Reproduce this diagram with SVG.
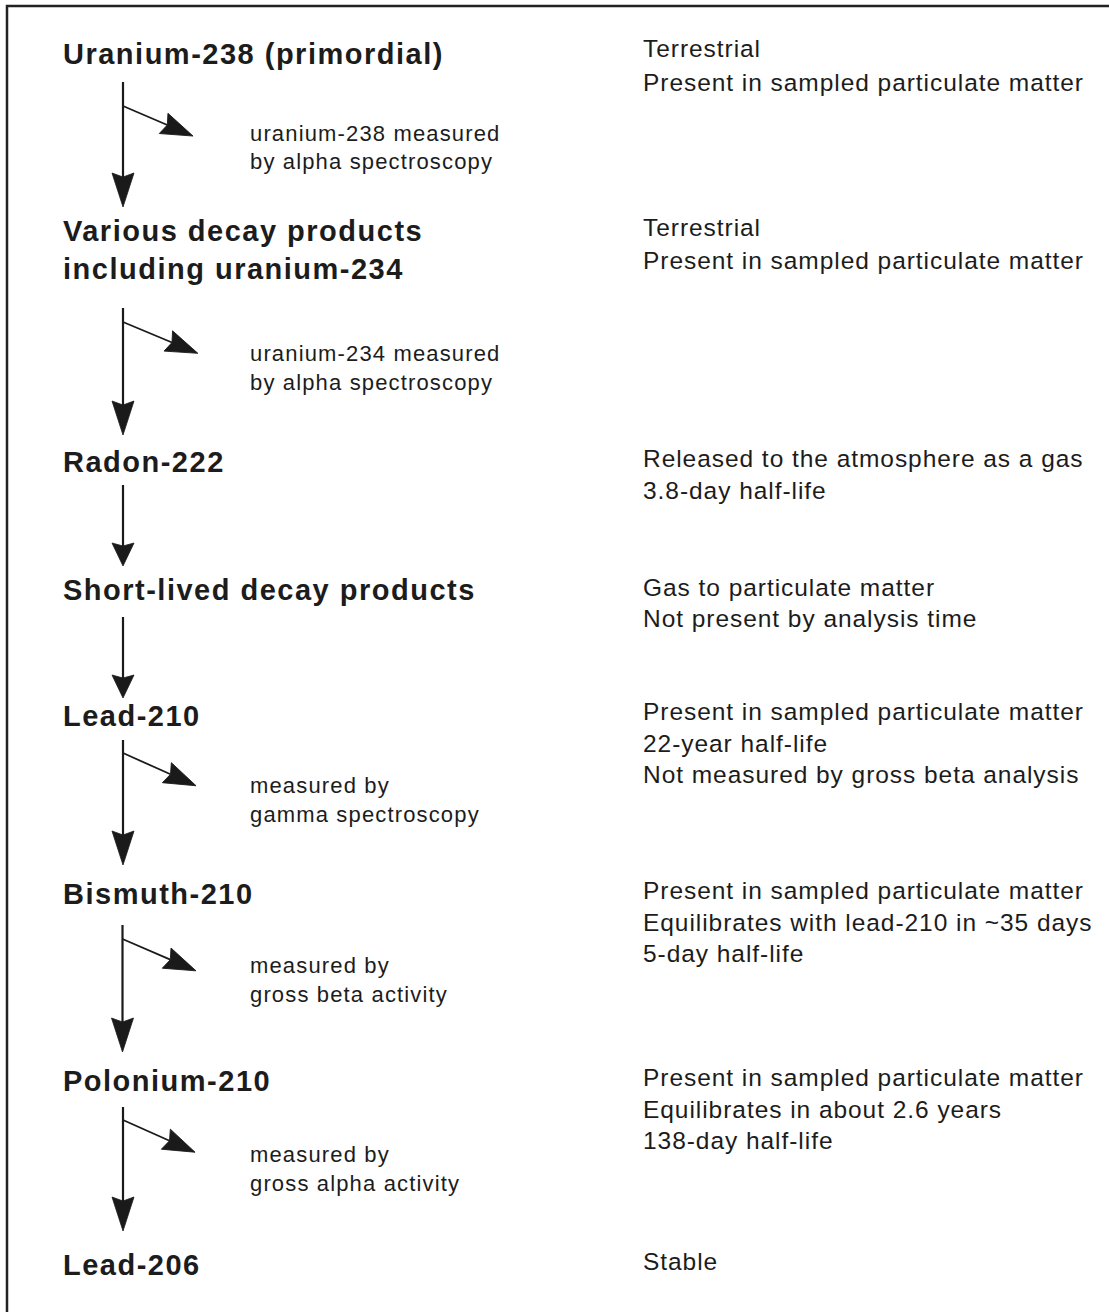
<svg xmlns="http://www.w3.org/2000/svg" width="1109" height="1312" viewBox="0 0 1109 1312">
<style>
.title{font-family:"Liberation Sans",Arial,sans-serif;font-weight:bold;font-size:29px;letter-spacing:1.5px;fill:#1c1c1c}
.note{font-family:"Liberation Sans",Arial,sans-serif;font-size:24.5px;letter-spacing:0.95px;fill:#1c1c1c}
.meas{font-family:"Liberation Sans",Arial,sans-serif;font-size:22px;letter-spacing:1.15px;fill:#1c1c1c}
.shaft{stroke:#1a1a1a;stroke-width:2.2;fill:none}
.branch{stroke:#1a1a1a;stroke-width:1.8;fill:none}
.head{fill:#1a1a1a;stroke:#1a1a1a;stroke-width:0.8;stroke-linejoin:round}
</style>
<defs>
<marker id="ah" markerUnits="userSpaceOnUse" orient="auto" markerWidth="50" markerHeight="30" viewBox="-10 -15 50 30" refX="0" refY="0" overflow="visible">
<path class="head" d="M30,0 L-4,-11 L0,0 L-4,11 Z"/>
</marker>
<marker id="ab" markerUnits="userSpaceOnUse" orient="auto" markerWidth="50" markerHeight="30" viewBox="-10 -15 50 30" refX="0" refY="0" overflow="visible">
<path class="head" d="M28,0 L-4,-11 L0,0 L-4,11 Z"/>
</marker>
<marker id="as" markerUnits="userSpaceOnUse" orient="auto" markerWidth="40" markerHeight="30" viewBox="-10 -15 40 30" refX="0" refY="0" overflow="visible">
<path class="head" d="M20,0 L-3,-11 L0,0 L-3,11 Z"/>
</marker>
</defs>
<rect x="0" y="0" width="1109" height="1312" fill="#ffffff"/>
<rect x="7" y="6" width="1200" height="1400" fill="none" stroke="#222" stroke-width="2.5"/>

<g id="connectors">
<line class="shaft" x1="123" y1="82" x2="123" y2="177" marker-end="url(#ah)"/>
<line class="branch" x1="123" y1="106" x2="167.3" y2="125" marker-end="url(#ab)"/>

<line class="shaft" x1="123" y1="308" x2="123" y2="405" marker-end="url(#ah)"/>
<line class="branch" x1="123" y1="322" x2="172" y2="342.5" marker-end="url(#ab)"/>

<line class="shaft" x1="123" y1="485" x2="123" y2="546" marker-end="url(#as)"/>

<line class="shaft" x1="123" y1="617" x2="123" y2="678" marker-end="url(#as)"/>

<line class="shaft" x1="123" y1="740" x2="123" y2="835" marker-end="url(#ah)"/>
<line class="branch" x1="123" y1="753" x2="170.5" y2="774.3" marker-end="url(#ab)"/>

<line class="shaft" x1="122.5" y1="925" x2="122.5" y2="1022" marker-end="url(#ah)"/>
<line class="branch" x1="122.5" y1="939" x2="170.3" y2="959.7" marker-end="url(#ab)"/>

<line class="shaft" x1="123" y1="1107" x2="123" y2="1201" marker-end="url(#ah)"/>
<line class="branch" x1="123" y1="1120" x2="169.5" y2="1140.8" marker-end="url(#ab)"/>
</g>

<g id="node-u238">
<text class="title" x="63" y="64">Uranium-238 (primordial)</text>
<text class="note" x="643" y="57">Terrestrial</text>
<text class="note" x="643" y="90.5">Present in sampled particulate matter</text>
</g>
<g id="meas-u238">
<text class="meas" x="250" y="140.5">uranium-238 measured</text>
<text class="meas" x="250" y="168.5">by alpha spectroscopy</text>
</g>

<g id="node-u234">
<text class="title" x="63" y="241">Various decay products</text>
<text class="title" x="63" y="278.5">including uranium-234</text>
<text class="note" x="643" y="236">Terrestrial</text>
<text class="note" x="643" y="269">Present in sampled particulate matter</text>
</g>
<g id="meas-u234">
<text class="meas" x="250" y="361">uranium-234 measured</text>
<text class="meas" x="250" y="390">by alpha spectroscopy</text>
</g>

<g id="node-rn222">
<text class="title" x="63" y="472">Radon-222</text>
<text class="note" x="643" y="467">Released to the atmosphere as a gas</text>
<text class="note" x="643" y="499">3.8-day half-life</text>
</g>

<g id="node-short">
<text class="title" x="63" y="600">Short-lived decay products</text>
<text class="note" x="643" y="596">Gas to particulate matter</text>
<text class="note" x="643" y="627">Not present by analysis time</text>
</g>

<g id="node-pb210">
<text class="title" x="63" y="725.5">Lead-210</text>
<text class="note" x="643" y="720">Present in sampled particulate matter</text>
<text class="note" x="643" y="752">22-year half-life</text>
<text class="note" x="643" y="783">Not measured by gross beta analysis</text>
</g>
<g id="meas-pb210">
<text class="meas" x="250" y="792.5">measured by</text>
<text class="meas" x="250" y="822">gamma spectroscopy</text>
</g>

<g id="node-bi210">
<text class="title" x="63" y="903.5">Bismuth-210</text>
<text class="note" x="643" y="899">Present in sampled particulate matter</text>
<text class="note" x="643" y="931">Equilibrates with lead-210 in ~35 days</text>
<text class="note" x="643" y="962">5-day half-life</text>
</g>
<g id="meas-bi210">
<text class="meas" x="250" y="973">measured by</text>
<text class="meas" x="250" y="1002">gross beta activity</text>
</g>

<g id="node-po210">
<text class="title" x="63" y="1090.5">Polonium-210</text>
<text class="note" x="643" y="1086">Present in sampled particulate matter</text>
<text class="note" x="643" y="1118">Equilibrates in about 2.6 years</text>
<text class="note" x="643" y="1149">138-day half-life</text>
</g>
<g id="meas-po210">
<text class="meas" x="250" y="1162">measured by</text>
<text class="meas" x="250" y="1191">gross alpha activity</text>
</g>

<g id="node-pb206">
<text class="title" x="63" y="1275">Lead-206</text>
<text class="note" x="643" y="1270">Stable</text>
</g>
</svg>
